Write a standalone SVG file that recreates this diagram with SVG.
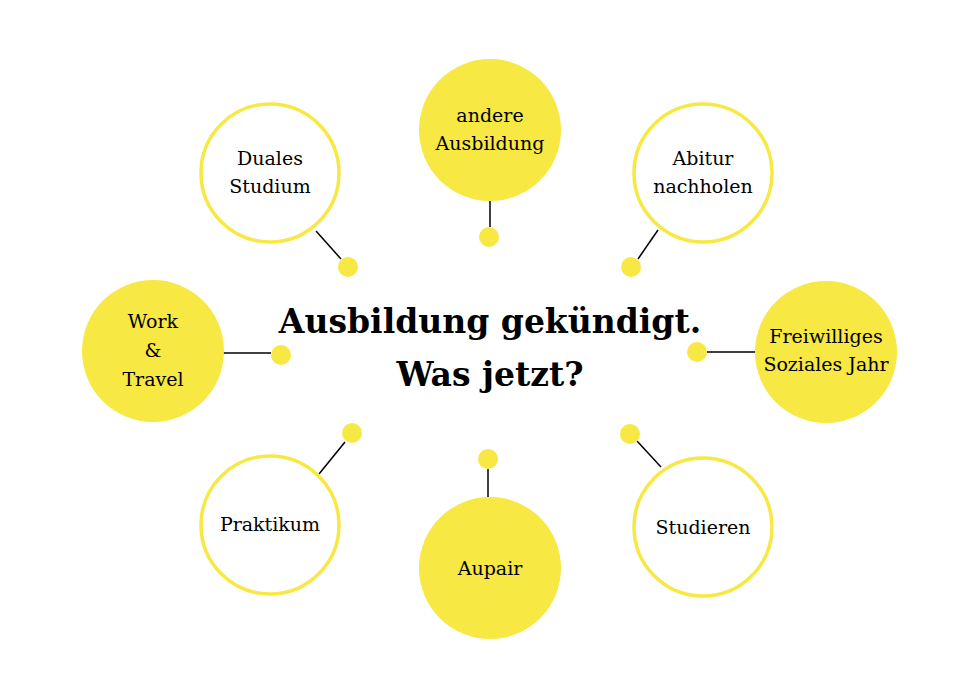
<svg xmlns="http://www.w3.org/2000/svg" width="980" height="700" viewBox="0 0 980 700">
<style>
.o{fill:#fff;stroke:#F7E843;stroke-width:3.5}
.f{fill:#F7E843}
.d{fill:#F7E843}
.l{stroke:#000;stroke-width:1.5}
text{font-family:"DejaVu Serif","Liberation Serif",serif;font-size:19px;text-anchor:middle;fill:#000}
.t{font-size:33px;font-weight:bold}
</style>
<rect width="980" height="700" fill="#fff"/>
<g id="connectors">
<line class="l" x1="316" y1="231" x2="341" y2="259"/>
<line class="l" x1="490" y1="201" x2="490" y2="227"/>
<line class="l" x1="658" y1="230" x2="638" y2="259"/>
<line class="l" x1="223" y1="353" x2="271" y2="353"/>
<line class="l" x1="707" y1="352" x2="756" y2="352"/>
<line class="l" x1="345" y1="442" x2="319" y2="474"/>
<line class="l" x1="488" y1="469" x2="488" y2="497"/>
<line class="l" x1="637" y1="441" x2="661" y2="467"/>
<circle class="d" cx="348" cy="267" r="10"/>
<circle class="d" cx="489" cy="237" r="10"/>
<circle class="d" cx="631" cy="267" r="10"/>
<circle class="d" cx="281" cy="355" r="10"/>
<circle class="d" cx="697" cy="352" r="10"/>
<circle class="d" cx="352" cy="433" r="10"/>
<circle class="d" cx="488" cy="459" r="10"/>
<circle class="d" cx="630" cy="434" r="10"/>
</g>
<g id="title"><text class="t" x="490" y="333">Ausbildung gekündigt.</text><text class="t" x="490" y="386">Was jetzt?</text></g>
<g id="duales"><circle class="o" cx="270" cy="173" r="69"/><text x="270" y="165">Duales</text><text x="270" y="193">Studium</text></g>
<g id="andere"><circle class="f" cx="490" cy="130" r="71"/><text x="490" y="122">andere</text><text x="490" y="150">Ausbildung</text></g>
<g id="abitur"><circle class="o" cx="703" cy="173" r="69"/><text x="703" y="165">Abitur</text><text x="703" y="193">nachholen</text></g>
<g id="work"><circle class="f" cx="153" cy="351" r="71"/><text x="153" y="328">Work</text><text x="153" y="357">&amp;</text><text x="153" y="386">Travel</text></g>
<g id="fsj"><circle class="f" cx="826" cy="352" r="71"/><text x="826" y="343">Freiwilliges</text><text x="826" y="371">Soziales Jahr</text></g>
<g id="praktikum"><circle class="o" cx="270" cy="525" r="69"/><text x="270" y="531">Praktikum</text></g>
<g id="aupair"><circle class="f" cx="490" cy="568" r="71"/><text x="490" y="575">Aupair</text></g>
<g id="studieren"><circle class="o" cx="703" cy="527" r="69"/><text x="703" y="534">Studieren</text></g>
</svg>
